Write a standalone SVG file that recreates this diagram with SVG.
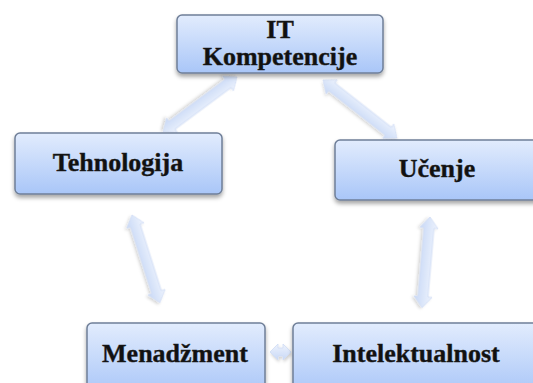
<svg xmlns="http://www.w3.org/2000/svg" width="533" height="383" viewBox="0 0 533 383">
<defs>
<linearGradient id="boxg" x1="0" y1="0" x2="0" y2="1">
<stop offset="0" stop-color="#e2ecfd"/>
<stop offset="1" stop-color="#a9c6f8"/>
</linearGradient>
<linearGradient id="arrg" x1="0" y1="0" x2="0" y2="1">
<stop offset="0" stop-color="#eef3fd"/>
<stop offset="1" stop-color="#c8d8f6"/>
</linearGradient>
<filter id="sh" x="-10%" y="-10%" width="120%" height="140%">
<feDropShadow dx="0" dy="3" stdDeviation="2" flood-color="#000" flood-opacity="0.35"/>
</filter>
<filter id="ash" x="-30%" y="-30%" width="160%" height="160%">
<feDropShadow dx="1" dy="2" stdDeviation="1.5" flood-color="#000" flood-opacity="0.18"/>
</filter>
</defs>
<style>
.box{fill:url(#boxg);stroke:#6f7f98;stroke-width:1.5;filter:url(#sh)}
.lbl{font-family:"Liberation Serif","Times New Roman",serif;font-weight:bold;font-size:26px;fill:#111;stroke:#222;stroke-width:0.4;text-anchor:middle}
.arr{fill:url(#arrg);stroke:#cfdcf5;stroke-width:0.8;filter:url(#ash)}
</style>
<rect width="533" height="383" fill="#fff"/>
<g id="connectors">
<path class="arr" transform="translate(237,77) rotate(143.4)" d="M0,0 L11,-9 L11,-5 L81,-5 L81,-9 L92,0 L81,9 L81,5 L11,5 L11,9 Z"/>
<path class="arr" transform="translate(323,80) rotate(38.1)" d="M0,0 L11,-9 L11,-5 L83,-5 L83,-9 L94,0 L83,9 L83,5 L11,5 L11,9 Z"/>
<path class="arr" transform="translate(132,215) rotate(72.35)" d="M0,0 L11,-9 L11,-5 L81,-5 L81,-9 L92,0 L81,9 L81,5 L11,5 L11,9 Z"/>
<path class="arr" transform="translate(430,217) rotate(95)" d="M0,0 L11,-9 L11,-5 L80,-5 L80,-9 L91,0 L80,9 L80,5 L11,5 L11,9 Z"/>
<path class="arr" transform="translate(270,352)" d="M0,0 L8,-8 L8,-4 L13,-4 L13,-8 L21,0 L13,8 L13,4 L8,4 L8,8 Z"/>
</g>
<g id="node-it">
<rect class="box" x="177" y="15" width="206" height="58" rx="5"/>
<text class="lbl" x="280" y="38">IT</text>
<text class="lbl" x="280" y="65">Kompetencije</text>
</g>
<g id="node-tehnologija">
<rect class="box" x="15" y="133" width="207" height="61" rx="5"/>
<text class="lbl" x="118" y="171">Tehnologija</text>
</g>
<g id="node-ucenje">
<rect class="box" x="335" y="140" width="210" height="60" rx="5"/>
<text class="lbl" x="437" y="177">Učenje</text>
</g>
<g id="node-menadzment">
<rect class="box" x="87" y="323" width="178" height="72" rx="5"/>
<text class="lbl" x="175" y="362">Menadžment</text>
</g>
<g id="node-intelektualnost">
<rect class="box" x="293" y="323" width="252" height="72" rx="5"/>
<text class="lbl" x="416" y="362">Intelektualnost</text>
</g>
</svg>
